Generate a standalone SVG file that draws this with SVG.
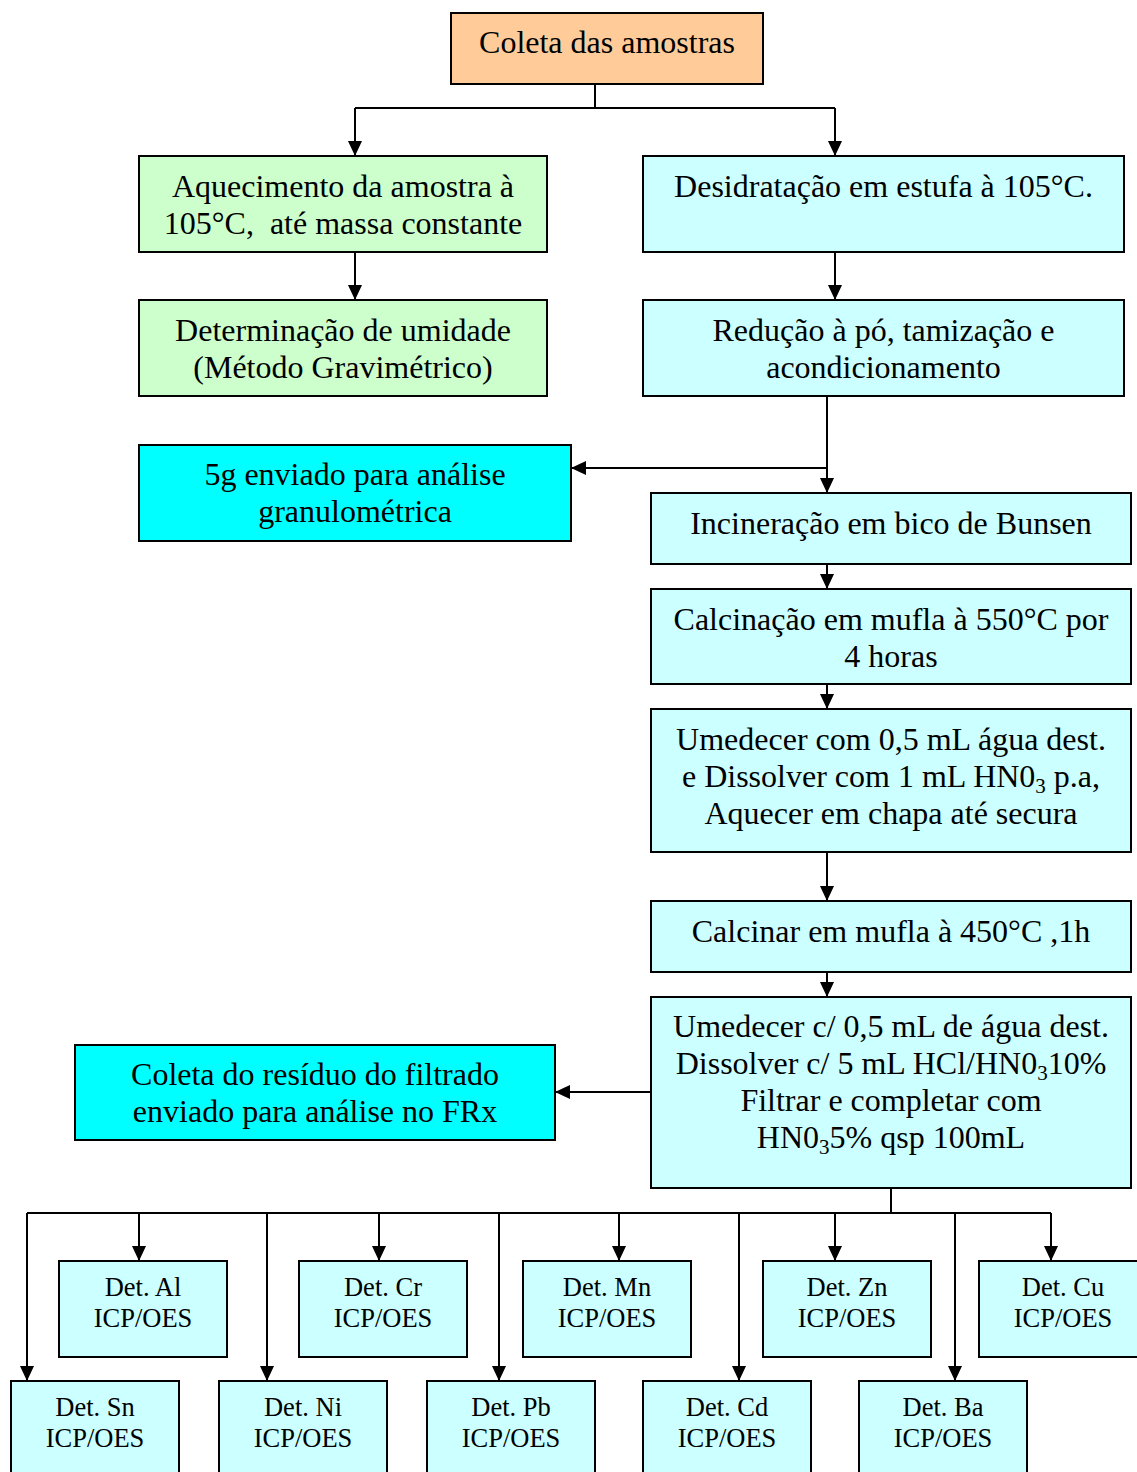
<svg xmlns="http://www.w3.org/2000/svg" width="1137" height="1472" viewBox="0 0 1137 1472">
<defs>
<marker id="ah" markerUnits="userSpaceOnUse" markerWidth="15" markerHeight="14" refX="15" refY="7" orient="auto">
<path d="M0,0 L15,7 L0,14 z" fill="#000"/>
</marker>
<style>
rect{stroke:#000;stroke-width:2}
.o{fill:#FFCC99}.g{fill:#CCFFCC}.c{fill:#CCFFFF}.a{fill:#00FFFF}
text{font-family:"Liberation Serif","Times New Roman",serif;font-size:32px;fill:#000;text-anchor:middle}
.s{font-size:26.5px}
.l{fill:none;stroke:#000;stroke-width:2}
.sub{font-size:21px;baseline-shift:-6px}
</style>
</defs>
<rect width="1137" height="1472" fill="#fff" style="stroke:none"/>
<g id="connectors" class="l">
<path d="M595,84 V108 M355,108 H835 M891,1188 V1213 M27,1213 H1051"/>
<path d="M355,108 V156" marker-end="url(#ah)"/>
<path d="M835,108 V156" marker-end="url(#ah)"/>
<path d="M355,252 V300" marker-end="url(#ah)"/>
<path d="M835,252 V300" marker-end="url(#ah)"/>
<path d="M827,396 V493" marker-end="url(#ah)"/>
<path d="M827,468 H571" marker-end="url(#ah)"/>
<path d="M827,564 V589" marker-end="url(#ah)"/>
<path d="M827,684 V709" marker-end="url(#ah)"/>
<path d="M827,852 V901" marker-end="url(#ah)"/>
<path d="M827,972 V997" marker-end="url(#ah)"/>
<path d="M651,1092 H555" marker-end="url(#ah)"/>
<path d="M139,1213 V1261" marker-end="url(#ah)"/>
<path d="M379,1213 V1261" marker-end="url(#ah)"/>
<path d="M619,1213 V1261" marker-end="url(#ah)"/>
<path d="M835,1213 V1261" marker-end="url(#ah)"/>
<path d="M1051,1213 V1261" marker-end="url(#ah)"/>
<path d="M27,1213 V1381" marker-end="url(#ah)"/>
<path d="M267,1213 V1381" marker-end="url(#ah)"/>
<path d="M499,1213 V1381" marker-end="url(#ah)"/>
<path d="M739,1213 V1381" marker-end="url(#ah)"/>
<path d="M955,1213 V1381" marker-end="url(#ah)"/>
</g>
<g id="coleta"><rect class="o" x="451" y="13" width="312" height="71"/><text x="607" y="53">Coleta das amostras</text></g>
<g id="aquecimento"><rect class="g" x="139" y="156" width="408" height="96"/><text x="343" y="197">Aquecimento da amostra à</text><text x="343" y="234" xml:space="preserve">105°C,  até massa constante</text></g>
<g id="desidratacao"><rect class="c" x="643" y="156" width="481" height="96"/><text x="883.5" y="197">Desidratação em estufa à 105°C.</text></g>
<g id="umidade"><rect class="g" x="139" y="300" width="408" height="96"/><text x="343" y="341">Determinação de umidade</text><text x="343" y="378">(Método Gravimétrico)</text></g>
<g id="reducao"><rect class="c" x="643" y="300" width="481" height="96"/><text x="883.5" y="341">Redução à pó, tamização e</text><text x="883.5" y="378">acondicionamento</text></g>
<g id="granulometrica"><rect class="a" x="139" y="445" width="432" height="96"/><text x="355" y="485">5g enviado para análise</text><text x="355" y="522">granulométrica</text></g>
<g id="incineracao"><rect class="c" x="651" y="493" width="480" height="71"/><text x="891" y="534">Incineração em bico de Bunsen</text></g>
<g id="calcinacao"><rect class="c" x="651" y="589" width="480" height="95"/><text x="891" y="630">Calcinação em mufla à 550°C por</text><text x="891" y="667">4 horas</text></g>
<g id="umedecer1"><rect class="c" x="651" y="709" width="480" height="143"/><text x="891" y="750">Umedecer com 0,5 mL água dest.</text><text x="891" y="787">e Dissolver com 1 mL HN0<tspan class="sub">3</tspan> p.a,</text><text x="891" y="824">Aquecer em chapa até secura</text></g>
<g id="calcinar"><rect class="c" x="651" y="901" width="480" height="71"/><text x="891" y="942">Calcinar em mufla à 450°C ,1h</text></g>
<g id="umedecer2"><rect class="c" x="651" y="997" width="480" height="191"/><text x="891" y="1037">Umedecer c/ 0,5 mL de água dest.</text><text x="891" y="1074">Dissolver c/ 5 mL HCl/HN0<tspan class="sub">3</tspan>10%</text><text x="891" y="1111">Filtrar e completar com</text><text x="891" y="1148">HN0<tspan class="sub">3</tspan>5% qsp 100mL</text></g>
<g id="frx"><rect class="a" x="75" y="1045" width="480" height="95"/><text x="315" y="1085">Coleta do resíduo do filtrado</text><text x="315" y="1122">enviado para análise no FRx</text></g>
<g id="al"><rect class="c" x="59" y="1261" width="168" height="96"/><text class="s" x="143" y="1296">Det. Al</text><text class="s" x="143" y="1327">ICP/OES</text></g>
<g id="cr"><rect class="c" x="299" y="1261" width="168" height="96"/><text class="s" x="383" y="1296">Det. Cr</text><text class="s" x="383" y="1327">ICP/OES</text></g>
<g id="mn"><rect class="c" x="523" y="1261" width="168" height="96"/><text class="s" x="607" y="1296">Det. Mn</text><text class="s" x="607" y="1327">ICP/OES</text></g>
<g id="zn"><rect class="c" x="763" y="1261" width="168" height="96"/><text class="s" x="847" y="1296">Det. Zn</text><text class="s" x="847" y="1327">ICP/OES</text></g>
<g id="cu"><rect class="c" x="979" y="1261" width="168" height="96"/><text class="s" x="1063" y="1296">Det. Cu</text><text class="s" x="1063" y="1327">ICP/OES</text></g>
<g id="sn"><rect class="c" x="11" y="1381" width="168" height="96"/><text class="s" x="95" y="1416">Det. Sn</text><text class="s" x="95" y="1447">ICP/OES</text></g>
<g id="ni"><rect class="c" x="219" y="1381" width="168" height="96"/><text class="s" x="303" y="1416">Det. Ni</text><text class="s" x="303" y="1447">ICP/OES</text></g>
<g id="pb"><rect class="c" x="427" y="1381" width="168" height="96"/><text class="s" x="511" y="1416">Det. Pb</text><text class="s" x="511" y="1447">ICP/OES</text></g>
<g id="cd"><rect class="c" x="643" y="1381" width="168" height="96"/><text class="s" x="727" y="1416">Det. Cd</text><text class="s" x="727" y="1447">ICP/OES</text></g>
<g id="ba"><rect class="c" x="859" y="1381" width="168" height="96"/><text class="s" x="943" y="1416">Det. Ba</text><text class="s" x="943" y="1447">ICP/OES</text></g>
</svg>
